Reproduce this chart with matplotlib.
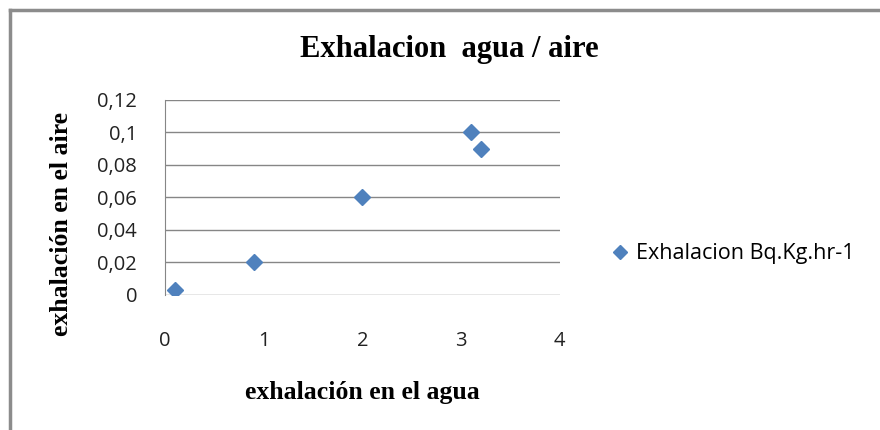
import matplotlib
matplotlib.use('Agg')
import matplotlib.pyplot as plt
from matplotlib.lines import Line2D

# datos de exhalacion
agua = [0.1, 0.9, 2.0, 3.1, 3.2]
aire = [0.003, 0.02, 0.06, 0.1, 0.09]
y_ticks = [0, 0.02, 0.04, 0.06, 0.08, 0.1, 0.12]
y_labels = ['0', '0,02', '0,04', '0,06', '0,08', '0,1', '0,12']
x_ticks = [0, 1, 2, 3, 4]

azul = '#4F81BD'
gris = '#868686'

fig = plt.figure(figsize=(8.8, 4.3), dpi=100)
ax = fig.add_axes([0.1875, 0.314, 0.4486, 0.4535])

ax.plot(agua, aire, linestyle='none', marker='D', markersize=8.5,
        color=azul, label='Exhalacion Bq.Kg.hr-1')

ax.set_xlim(0, 4)
ax.set_ylim(0, 0.12)
ax.set_xticks(x_ticks)
ax.set_yticks(y_ticks)
ax.set_yticklabels(y_labels)
ax.grid(axis='y', color=gris, linewidth=1)
ax.set_axisbelow(True)
for s in ['top', 'right', 'bottom']:
    ax.spines[s].set_visible(False)
ax.spines['left'].set_color(gris)
ax.tick_params(length=0, labelsize=14.5, colors='#222222')
ax.tick_params(axis='x', pad=26)
ax.tick_params(axis='y', pad=20)
for t in ax.get_xticklabels() + ax.get_yticklabels():
    t.set_fontfamily('Open Sans')

serif = dict(family='Liberation Serif', weight='bold', color='black')
fig.text(0.511, 0.884, 'Exhalacion  agua / aire', ha='center', va='center',
         fontsize=22, **serif)
fig.text(0.412, 0.088, 'exhalación en el agua', ha='center', va='center',
         fontsize=18.5, **serif)
fig.text(0.07, 0.48, 'exhalación en el aire', ha='center', va='center',
         rotation=90, fontsize=18.5, **serif)

# leyenda a la derecha
h = Line2D([], [], linestyle='none', marker='D', markersize=7.5, color=azul)
fig.legend([h], ['Exhalacion Bq.Kg.hr-1'], loc='center left',
           bbox_to_anchor=(0.673, 0.41), frameon=False, handlelength=0.8,
           handletextpad=0.35, prop={'family': 'Open Sans', 'size': 15.5})

# marco del grafico
fig.add_artist(Line2D([0.0114, 0.0114], [0.0, 0.977], color='#8c8c8c',
                      linewidth=2.5, transform=fig.transFigure))
fig.add_artist(Line2D([0.0114, 1.0], [0.977, 0.977], color='#8c8c8c',
                      linewidth=2.5, transform=fig.transFigure))

fig.savefig('out.png', dpi=100)
